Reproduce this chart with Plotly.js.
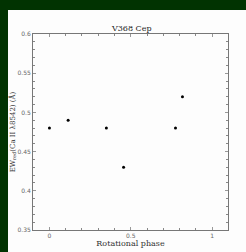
<!DOCTYPE html>
<html><head><meta charset="utf-8">
<script src="https://cdn.plot.ly/plotly-3.0.1.min.js"></script>
<style>
html,body{margin:0;padding:0;background:#013301;width:246px;height:252px;overflow:hidden;}
#chart{position:absolute;left:8px;top:10px;width:238px;height:242px;}
</style></head>
<body><div id="chart"></div>
<script>
const phase = [0, 0.115, 0.35, 0.456, 0.775, 0.818];
const ew = [0.48, 0.49, 0.48, 0.43, 0.48, 0.52];
const xTicks = [0, 0.5, 1];
const xTickText = ['0', '0.5', '1'];
const yTicks = [0.35, 0.4, 0.45, 0.5, 0.55, 0.6];
const yTickText = ['0.35', '0.4', '0.45', '0.5', '0.55', '0.6'];

const serif = 'DejaVu Serif, Liberation Serif, serif';
Plotly.newPlot('chart', [{
  x: phase, y: ew, type: 'scatter', mode: 'markers',
  marker: {color: '#000', size: 3}
}], {
  width: 238, height: 242,
  paper_bgcolor: '#fdfdfd', plot_bgcolor: '#fdfdfd',
  margin: {l: 24.5, r: 18, t: 24, b: 22},
  showlegend: false,
  title: {text: 'V368 Cep', font: {family: serif, size: 8, color: '#222'}, x: 0.52, xanchor: 'center', y: 0.926, yanchor: 'middle', yref: 'container'},
  xaxis: {
    range: [-0.101, 1.098], showgrid: false, zeroline: false,
    showline: true, linecolor: '#777', linewidth: 1, mirror: 'allticks',
    ticks: 'inside', ticklen: 3, tickcolor: '#999', tickwidth: 1,
    tickvals: xTicks, ticktext: xTickText,
    tickfont: {family: 'DejaVu Sans, sans-serif', size: 6, color: '#666'},
    minor: {dtick: 0.1, ticks: 'inside', ticklen: 2, tickcolor: '#888', tickwidth: 1},
    title: {text: 'Rotational phase', font: {family: serif, size: 8, color: '#333'}, standoff: 2}
  },
  yaxis: {
    range: [0.35, 0.6], showgrid: false, zeroline: false,
    showline: true, linecolor: '#777', linewidth: 1, mirror: 'allticks',
    ticks: 'inside', ticklen: 3, tickcolor: '#999', tickwidth: 1,
    tickvals: yTicks, ticktext: yTickText,
    tickfont: {family: 'DejaVu Sans, sans-serif', size: 6, color: '#666'},
    minor: {dtick: 0.01, ticks: 'inside', ticklen: 2, tickcolor: '#888', tickwidth: 1},
    title: {text: 'EW<sub>red</sub>(Ca II λ8542) (Å)', font: {family: serif, size: 7, color: '#333'}, standoff: 0}
  }
}, {displayModeBar: false, staticPlot: true});
</script></body></html>
